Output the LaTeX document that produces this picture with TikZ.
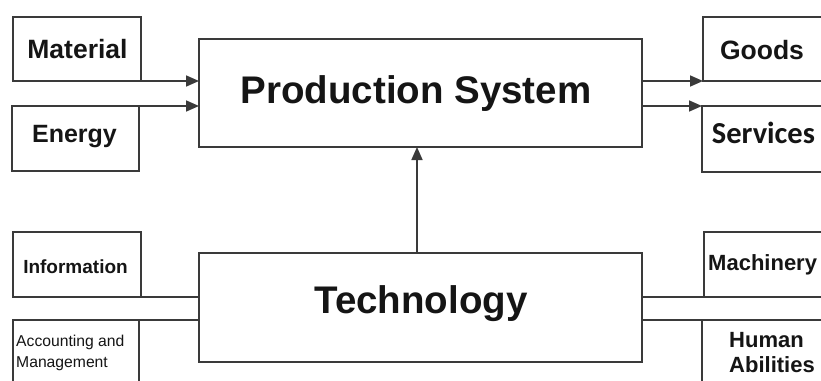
\documentclass[tikz,border=0pt]{standalone}
\usepackage{fontspec}
\setmainfont{Liberation Sans}
\newfontfamily\calfont{Carlito}
\usetikzlibrary{arrows.meta}
\definecolor{linec}{HTML}{3A3A3A}
\definecolor{txtc}{HTML}{151515}
\begin{document}
\begin{tikzpicture}[x=1pt,y=-1pt,
  box/.style={draw=linec, line width=1.7pt, inner sep=0pt, outer sep=0pt, anchor=north west},
  txt/.style={text=txtc, inner sep=0pt, anchor=base},
  txtl/.style={text=txtc, inner sep=0pt, anchor=base west},
  conn/.style={draw=linec, line width=1.7pt},
  arr/.style={conn, -{Triangle[length=13pt,width=11pt]}}]
\useasboundingbox (0,0) rectangle (821,380);
\clip (0,0) rectangle (821,380);
\fill[white] (0,0) rectangle (821,380);
% boxes
\node[box, minimum width=128pt, minimum height=64pt] (mat) at (13,17) {};
\node[box, minimum width=127pt, minimum height=65pt] (ene) at (12,106) {};
\node[box, minimum width=443pt, minimum height=108pt] (prod) at (199,39) {};
\node[box, minimum width=126pt, minimum height=64pt] (goods) at (703,17) {};
\node[box, minimum width=126pt, minimum height=66pt] (serv) at (702,106) {};
\node[box, minimum width=128pt, minimum height=65pt] (info) at (13,232) {};
\node[box, minimum width=126pt, minimum height=75pt] (acc) at (13,320) {};
\node[box, minimum width=443pt, minimum height=109pt] (tech) at (199,253) {};
\node[box, minimum width=126pt, minimum height=65pt] (mach) at (704,232) {};
\node[box, minimum width=126pt, minimum height=75pt] (hum) at (702,320) {};
% texts
\node[txt, font=\bfseries\fontsize{26.5}{30}\selectfont] (tmat) at (77.5,58) {Material};
\node[txt, font=\bfseries\fontsize{25}{30}\selectfont] (tene) at (74.5,142) {Energy};
\node[txt, font=\bfseries\fontsize{38.5}{44}\selectfont] (tprod) at (416,103) {Production System};
\node[txt, font=\bfseries\fontsize{26.5}{30}\selectfont] (tgoods) at (762,59) {Goods};
\node[txt, font=\calfont\bfseries\fontsize{30.5}{34}\selectfont] (tserv) at (763.5,143) {Services};
\node[txt, font=\bfseries\fontsize{19}{22}\selectfont] (tinfo) at (75.5,273) {Information};
\node[txtl, font=\fontsize{15.7}{18}\selectfont] (tacc1) at (16,346) {Accounting and};
\node[txtl, font=\fontsize{15.7}{18}\selectfont] (tacc2) at (16,367) {Management};
\node[txt, font=\bfseries\fontsize{38.5}{44}\selectfont] (ttech) at (421,313) {Technology};
\node[txtl, font=\bfseries\fontsize{22}{26}\selectfont] (tmach) at (708,270) {Machinery};
\node[txtl, font=\bfseries\fontsize{22}{26}\selectfont] (thum1) at (729,347) {Human};
\node[txtl, font=\bfseries\fontsize{22}{26}\selectfont] (thum2) at (729,372) {Abilities};
% connectors
\draw[arr] (mat.south east) -- (mat.south east -| prod.west);
\draw[arr] (ene.north east) -- (ene.north east -| prod.west);
\draw[arr] (mat.south east -| prod.east) -- (goods.south west);
\draw[arr] (ene.north east -| prod.east) -- (serv.north west);
\draw[arr] ([xshift=-3.5pt]tech.north) -- ([xshift=-3.5pt]prod.south);
\draw[conn] (info.south east) -- (info.south east -| tech.west);
\draw[conn] (acc.north east) -- (acc.north east -| tech.west);
\draw[conn] (info.south east -| tech.east) -- (mach.south west);
\draw[conn] (acc.north east -| tech.east) -- (hum.north west);
\end{tikzpicture}
\end{document}
